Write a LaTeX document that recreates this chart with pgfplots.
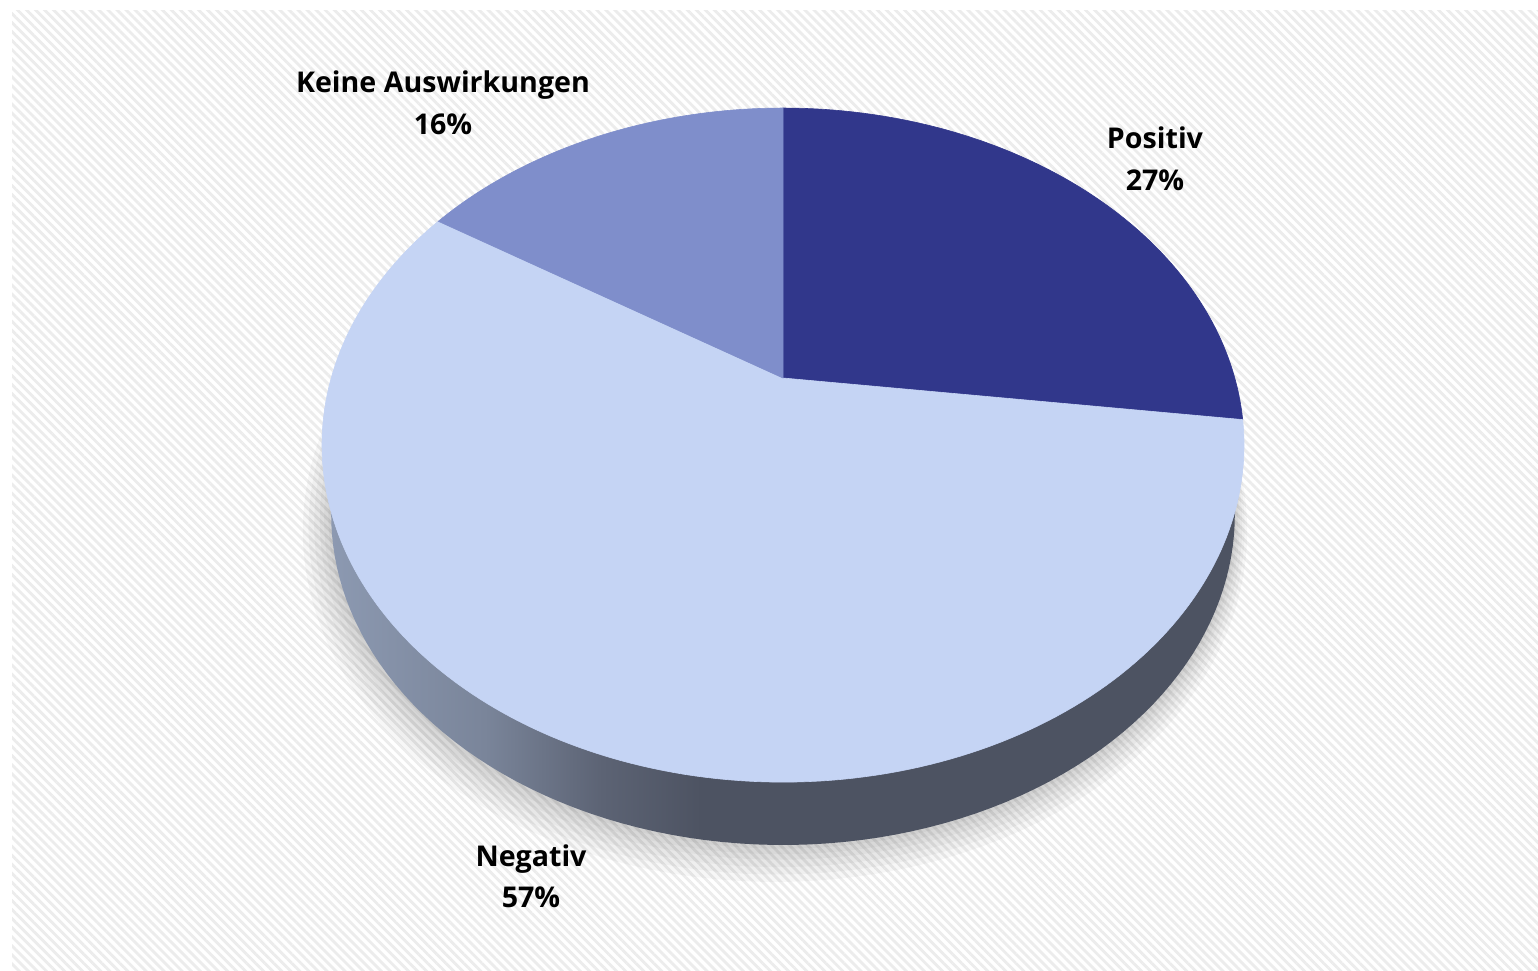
\documentclass[border=0pt]{standalone}
\usepackage{fontspec}
\setmainfont{Open Sans}
\usepackage{pgfplots}
\pgfplotsset{compat=1.18}
\usepackage{pgfplotstable}
\usetikzlibrary{patterns.meta}

\definecolor{cPos}{HTML}{31378B}
\definecolor{cNeg}{HTML}{C5D4F4}
\definecolor{cKei}{HTML}{7F8ECB}
\definecolor{sideL}{HTML}{8C99B1}
\definecolor{sideA}{HTML}{7A859A}
\definecolor{sideM}{HTML}{5C6374}
\definecolor{sideD}{HTML}{4D5362}
\definecolor{hatch}{HTML}{ECECEC}
\pgfdeclarehorizontalshading{sideshade}{100bp}{color(0bp)=(sideL); color(25bp)=(sideL); color(33.5bp)=(sideA); color(40bp)=(sideM); color(45.5bp)=(sideD); color(100bp)=(sideD)}

\pgfplotstableread{
label value
Positiv 27
Negativ 57
Keine 16
}\piedata
\pgfplotstablegetelem{0}{value}\of\piedata \let\vP\pgfplotsretval
\pgfplotstablegetelem{1}{value}\of\piedata \let\vN\pgfplotsretval
\pgfplotstablegetelem{2}{value}\of\piedata \let\vK\pgfplotsretval
\pgfmathsetmacro{\aA}{3.6*\vP}
\pgfmathsetmacro{\aB}{\aA+3.6*\vN}

\def\cx{783}\def\cy{378}\def\rx{451.8}\def\ry{323.7}\def\kk{0.199}
% bottom face (slightly smaller, further away)
\def\bcy{449}\def\brx{442.8}\def\bry{317.2}

\begin{document}
\begin{tikzpicture}
\begin{axis}[x=0.5pt, y=0.5pt, y dir=reverse, xmin=0, xmax=1538, ymin=0, ymax=970,
  hide axis, scale only axis, clip=true]
\fill[white] (0,0) rectangle (1538,970);
\fill[pattern={Lines[angle=-45,distance=3.2pt,line width=1.4pt]}, pattern color=hatch] (12,10) rectangle (1538,970);
% soft shadow
\pgfplotsinvokeforeach{20,16,12,8,5,2}{
\addplot[fill=black, opacity=0.03, draw=none, domain=0:360, samples=160]
  ({\cx-0.4*#1+(\brx+#1)*sin(x)/(1+\kk*cos(x))}, {\bcy+0.6*#1-(\bry+#1)*cos(x)/(1+\kk*cos(x))});
}
% side
\addplot[draw=none, shading=sideshade, domain=0:360, samples=200]
  ({\cx+\brx*sin(x)/(1+\kk*cos(x))}, {\bcy-\bry*cos(x)/(1+\kk*cos(x))});
% top face slices
\addplot[fill=cPos, draw=cPos, line width=0.3pt, domain=0:\aA, samples=90]
  ({\cx+\rx*sin(x)/(1+\kk*cos(x))}, {\cy-\ry*cos(x)/(1+\kk*cos(x))}) -- (axis cs:\cx,\cy) -- cycle;
\addplot[fill=cNeg, draw=cNeg, line width=0.3pt, domain=\aA:\aB, samples=180]
  ({\cx+\rx*sin(x)/(1+\kk*cos(x))}, {\cy-\ry*cos(x)/(1+\kk*cos(x))}) -- (axis cs:\cx,\cy) -- cycle;
\addplot[fill=cKei, draw=cKei, line width=0.3pt, domain=\aB:360, samples=60]
  ({\cx+\rx*sin(x)/(1+\kk*cos(x))}, {\cy-\ry*cos(x)/(1+\kk*cos(x))}) -- (axis cs:\cx,\cy) -- cycle;
% labels
\tikzset{lab/.style={anchor=base, inner sep=0pt, font=\bfseries\fontsize{14.3}{17}\selectfont}}
\node[lab] at (axis cs:443,92) {Keine Auswirkungen};
\node[lab] at (axis cs:443,134) {16\%};
\node[lab] at (axis cs:1155,148) {Positiv};
\node[lab] at (axis cs:1155,190) {27\%};
\node[lab] at (axis cs:531,866) {Negativ};
\node[lab] at (axis cs:531,907) {57\%};
\end{axis}
\end{tikzpicture}
\end{document}
